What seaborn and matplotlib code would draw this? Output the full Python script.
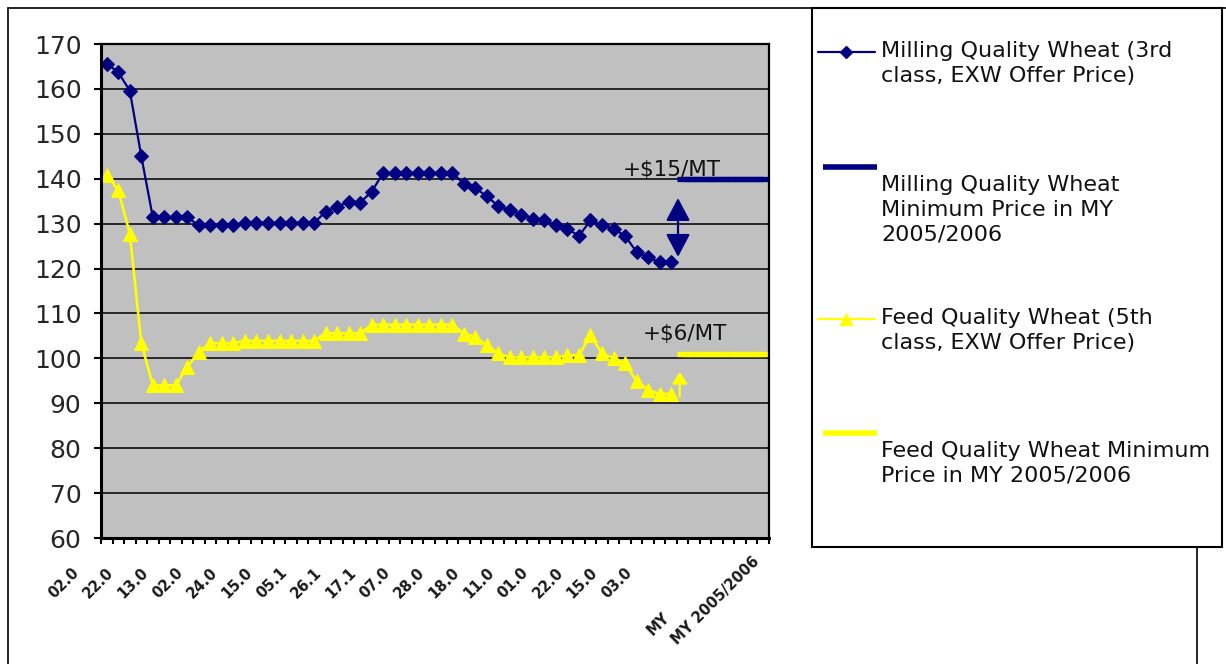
import matplotlib
matplotlib.use("Agg")
import matplotlib.pyplot as plt
from matplotlib.lines import Line2D
from matplotlib.patches import Rectangle, FancyArrowPatch
import seaborn as sns
import pandas as pd

# ---- data -------------------------------------------------------------
milling_offer = [165.6, 163.7, 159.6, 145.0, 131.4, 131.4, 131.4, 131.4, 129.6, 129.6,
                 129.6, 129.6, 130.2, 130.2, 130.2, 130.2, 130.2, 130.2, 130.2, 132.6,
                 133.8, 134.8, 134.7, 137.1, 141.3, 141.3, 141.3, 141.3, 141.3, 141.3,
                 141.3, 138.9, 137.9, 136.1, 133.9, 133.0, 132.0, 131.1, 130.7, 129.7,
                 128.8, 127.3, 130.7, 129.7, 128.8, 127.3, 123.7, 122.5, 121.4, 121.4]
feed_offer = [140.9, 137.4, 127.8, 103.4, 94.0, 94.0, 94.0, 98.1, 101.5, 103.4,
              103.4, 103.4, 103.9, 103.9, 103.9, 103.9, 103.9, 103.9, 103.9, 105.6,
              105.6, 105.6, 105.6, 107.5, 107.5, 107.5, 107.5, 107.5, 107.5, 107.5,
              107.5, 105.5, 104.8, 102.9, 101.1, 100.2, 100.2, 100.2, 100.2, 100.2,
              100.7, 100.7, 105.1, 101.1, 100.0, 98.9, 94.9, 93.0, 92.1, 92.1]
milling_min_price = [140, 140, 140, 140, 140, 140, 140, 140]
feed_min_price = [101, 101, 101, 101, 101, 101, 101, 101]

date_labels = ["02.0", "22.0", "13.0", "02.0", "24.0", "15.0", "05.1", "26.1", "17.1",
               "07.0", "28.0", "18.0", "11.0", "01.0", "22.0", "15.0", "03.0"]
my_labels = ["MY", "MY 2005/2006"]
y_ticks = [60, 70, 80, 90, 100, 110, 120, 130, 140, 150, 160, 170]

series_names = ["Milling Quality Wheat (3rd\nclass, EXW Offer Price)",
                "Milling Quality Wheat\nMinimum Price in MY\n2005/2006",
                "Feed Quality Wheat (5th\nclass, EXW Offer Price)",
                "Feed Quality Wheat Minimum\nPrice in MY 2005/2006"]

milling_rise = (122.6, 135.7)   # "+$15/MT" arrow span
feed_rise = (91.4, 97.0)        # "+$6/MT" arrow span

NAVY = "#000080"
YELLOW = "#FFFF00"

n_offer = len(milling_offer)
n_cat = n_offer + len(milling_min_price)

offer_df = pd.DataFrame({"cat": range(n_offer), "milling": milling_offer, "feed": feed_offer})
min_df = pd.DataFrame({"cat": range(n_offer, n_cat),
                       "milling": milling_min_price, "feed": feed_min_price})

# ---- figure -----------------------------------------------------------
sns.set_theme(style="white")
plt.rcParams["font.family"] = ["DejaVu Sans"]

W, H = 1226, 664
fig = plt.figure(figsize=(W / 100, H / 100), dpi=100)
fig.patch.set_facecolor("white")


def fx(px):
    return px / W


def fy(py):
    return 1 - py / H


ax = fig.add_axes([fx(101), fy(538), fx(769) - fx(101), fy(44) - fy(538)])
ax.set_facecolor("#C0C0C0")

sns.lineplot(data=offer_df, x="cat", y="milling", ax=ax, color=NAVY, lw=1.6,
             marker="D", markersize=7, markeredgecolor=NAVY, markerfacecolor=NAVY)
sns.lineplot(data=offer_df, x="cat", y="feed", ax=ax, color=YELLOW, lw=1.9,
             marker="^", markersize=9.5, markeredgecolor=YELLOW, markerfacecolor=YELLOW)
sns.lineplot(data=min_df, x="cat", y="milling", ax=ax, color=NAVY, lw=3.8,
             marker="_", markersize=8.3, markeredgewidth=3.8, markeredgecolor=NAVY)
sns.lineplot(data=min_df, x="cat", y="feed", ax=ax, color=YELLOW, lw=3.8,
             marker="_", markersize=8.3, markeredgewidth=3.8, markeredgecolor=YELLOW)

ax.set_xlim(-0.5, n_cat - 0.5)
ax.set_ylim(60, 170)
ax.set_yticks(y_ticks)
ax.yaxis.grid(True, color="black", lw=1.1)
ax.set_axisbelow(True)
ax.set_xlabel("")
ax.set_ylabel("")

# category boundary tick marks, labels drawn separately
ax.set_xticks([i - 0.5 for i in range(n_cat + 1)])
ax.set_xticklabels([])
ax.tick_params(axis="x", direction="out", length=4, width=1.5, color="black", bottom=True)
ax.tick_params(axis="y", direction="out", length=5, width=1.5, color="black", left=True,
               labelsize=18, pad=9)

for side in ["left", "bottom"]:
    ax.spines[side].set_linewidth(2.2)
    ax.spines[side].set_color("black")
for side in ["right", "top"]:
    ax.spines[side].set_linewidth(1.6)
    ax.spines[side].set_color("black")

# category labels
lab_kw = dict(xycoords=("data", "axes fraction"), textcoords="offset pixels",
              rotation=45, rotation_mode="anchor", ha="right", va="top",
              fontsize=10.5, fontweight="bold", color="#1a1a1a")
for k, lab in enumerate(date_labels):
    ax.annotate(lab, xy=(3 * k, 0), xytext=(-35, -27), **lab_kw)
ax.annotate(my_labels[0], xy=(n_offer + 1, 0), xytext=(-32, -72), **lab_kw)
ax.annotate(my_labels[1], xy=(n_cat - 1, 0), xytext=(-12, -16), **lab_kw)

# price increase markers
arrow_x = n_offer - 0.4
ax.add_patch(FancyArrowPatch((arrow_x, milling_rise[0]), (arrow_x, milling_rise[1]),
                             arrowstyle="<|-|>,head_length=0.7,head_width=0.37",
                             mutation_scale=20, color=NAVY, lw=1.6,
                             shrinkA=0, shrinkB=0, zorder=5))
ax.add_patch(FancyArrowPatch((arrow_x + 0.15, feed_rise[0]), (arrow_x + 0.15, feed_rise[1]),
                             arrowstyle="-|>,head_length=0.5,head_width=0.33",
                             mutation_scale=14, color=YELLOW, lw=1.6,
                             shrinkA=0, shrinkB=0, zorder=5))
ax.text(44.8, 140.6, "+$15/MT", fontsize=15.5, color="#111111", ha="left", va="baseline")
ax.text(46.5, 104.1, "+$6/MT", fontsize=15.5, color="#111111", ha="left", va="baseline")

# ---- surrounding frame ------------------------------------------------
fig.add_artist(Line2D([fx(8), fx(8)], [fy(8), fy(664)], transform=fig.transFigure,
                      color="black", lw=1.2))
fig.add_artist(Line2D([fx(8), fx(1226)], [fy(8), fy(8)], transform=fig.transFigure,
                      color="black", lw=1.2))
fig.add_artist(Line2D([fx(1197), fx(1197)], [fy(8), fy(664)], transform=fig.transFigure,
                      color="black", lw=1.2))

# ---- legend box -------------------------------------------------------
fig.add_artist(Rectangle((fx(812), fy(547)), fx(1222) - fx(812), fy(8) - fy(547),
                         transform=fig.transFigure, facecolor="white",
                         edgecolor="black", lw=1.5, zorder=3))

leg_font = 16
txt_kw = dict(fontsize=leg_font, ha="left", va="top", color="#111111", zorder=4,
              linespacing=1.3)
# entry 1: milling offer price
fig.add_artist(Line2D([fx(818), fx(875)], [fy(52), fy(52)], transform=fig.transFigure,
                      color=NAVY, lw=1.6, zorder=4))
fig.add_artist(Line2D([fx(846)], [fy(52)], transform=fig.transFigure, color=NAVY,
                      marker="D", markersize=6, zorder=4))
fig.text(fx(881), fy(41), series_names[0], **txt_kw)
# entry 2: milling minimum price
fig.add_artist(Line2D([fx(823), fx(877)], [fy(167), fy(167)], transform=fig.transFigure,
                      color=NAVY, lw=4, solid_capstyle="butt", zorder=4))
fig.text(fx(881), fy(175), series_names[1], **txt_kw)
# entry 3: feed offer price
fig.add_artist(Line2D([fx(818), fx(875)], [fy(319), fy(319)], transform=fig.transFigure,
                      color=YELLOW, lw=1.6, zorder=4))
fig.add_artist(Line2D([fx(846)], [fy(319)], transform=fig.transFigure, color=YELLOW,
                      marker="^", markersize=9, zorder=4))
fig.text(fx(881), fy(308), series_names[2], **txt_kw)
# entry 4: feed minimum price
fig.add_artist(Line2D([fx(823), fx(877)], [fy(433), fy(433)], transform=fig.transFigure,
                      color=YELLOW, lw=4, solid_capstyle="butt", zorder=4))
fig.text(fx(881), fy(441), series_names[3], **txt_kw)

fig.savefig("out.png", dpi=100, facecolor="white")
